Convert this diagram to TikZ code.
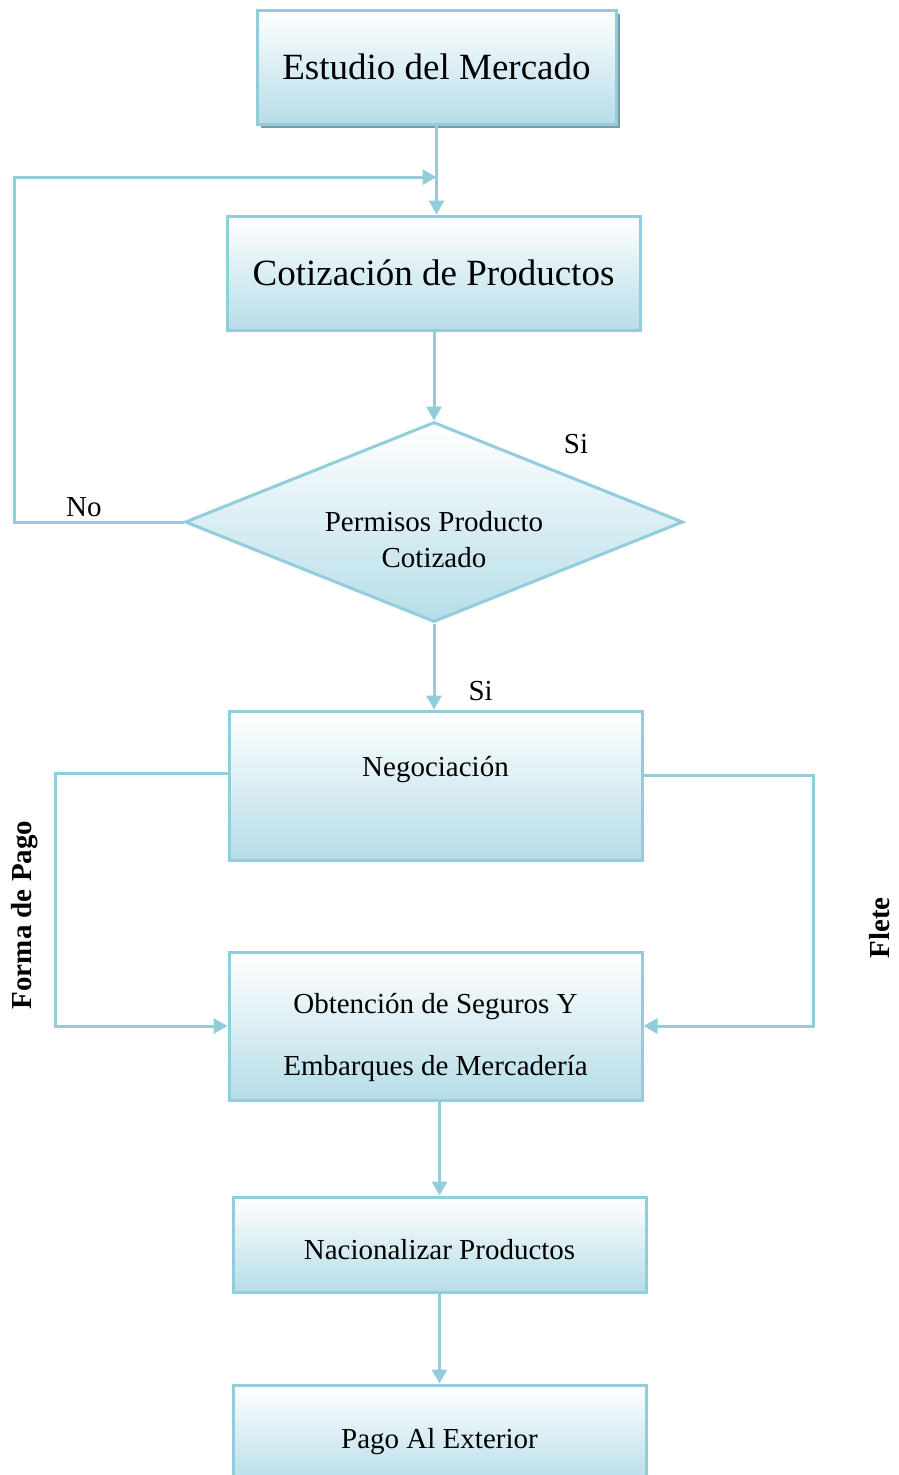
\documentclass[tikz,border=0pt]{standalone}
\usepackage{fontspec}
\setmainfont{Liberation Serif}
\usetikzlibrary{shapes.geometric,arrows.meta,positioning,calc,shadows}
\definecolor{flowline}{HTML}{92CDDC}
\definecolor{flowfill}{HTML}{B6DDE8}
\definecolor{flowshadow}{HTML}{7E98A6}
\tikzstyle{block} = [rectangle, draw=flowline, line width=3pt, top color=white,
    bottom color=flowfill, minimum width=413pt, minimum height=114pt, inner sep=0pt,
    font=\fontsize{29}{36}\selectfont]
\tikzstyle{bigblock} = [block, font=\fontsize{37}{44}\selectfont]
\tikzstyle{decision} = [diamond, draw=flowline, line width=3pt, top color=white,
    bottom color=flowfill, minimum width=498pt, minimum height=200pt, inner sep=0pt]
\tikzstyle{arrow} = [-{Triangle[length=14pt,width=15pt]}, line width=3pt, flowline]
\tikzstyle{tag} = [font=\fontsize{29}{36}\selectfont, text=black, inner sep=0pt]
\tikzstyle{sidetag} = [tag, font=\fontsize{29}{36}\selectfont\bfseries, rotate=90]

\begin{document}
\begin{tikzpicture}[x=1pt, y=-1pt]
\useasboundingbox (0,0) rectangle (898,1475);
\node[bigblock, minimum width=359pt, drop shadow={shadow xshift=4pt, shadow yshift=-4pt,
    fill=flowshadow, opacity=1}] (n1) at (436.5,67) {Estudio del Mercado};
\node[bigblock, below=89pt of n1, xshift=-3pt] (n2) {Cotización de Productos};
\node[decision, below=89pt of n2, xshift=0.5pt] (n3) {};
\node[tag, align=center] (n3t) at ([yshift=-18pt]n3.center) {Permisos Producto\\Cotizado};
\node[block, below=86pt of n3, xshift=1.5pt, minimum height=149pt,
    text height=65pt, text depth=84pt] (n4) {Negociación};
\node[block, below=89pt of n4, minimum height=148pt, align=center,
    font=\fontsize{29}{62}\selectfont] (n5)
    {\rule{0pt}{61pt}Obtención de Seguros Y\\Embarques de Mercadería\rule[-25pt]{0pt}{0pt}};
\node[block, below=94pt of n5, xshift=4pt, minimum height=95pt,
    text height=62pt, text depth=33pt] (n6) {Nacionalizar Productos};
\node[block, below=90pt of n6, minimum height=100pt,
    text height=63pt, text depth=37pt] (n7) {Pago Al Exterior};

\coordinate (m1) at ($(n1.south)!0.58!(n1.south |- n2.north)$);
\node[tag] (s1) at (576,444) {Si};
\node[sidetag] (l1) at (25,915) {Forma de Pago};
\node[sidetag] (l2) at (880,928) {Flete};

\draw[arrow] (n1.south) -- (n1.south |- n2.north);
\draw[arrow] (n3.north |- n2.south) -- (n3.north);
\draw[arrow] (n3.west) -- node[tag, pos=0.59, above=4pt]{No} ++(-169pt,0pt) |- (m1);
\draw[arrow] (n3.south) -- node[tag, pos=0.79, right=33pt]{Si} (n3.south |- n4.north);
\draw[arrow] ([yshift=12pt]n4.west) -- ++(-172pt,0pt) |- (n5.west);
\draw[arrow] ([yshift=10pt]n4.east) -- ++(170pt,0pt) |- (n5.east);
\draw[arrow] (n6.north |- n5.south) -- (n6.north);
\draw[arrow] (n6.south) -- (n7.north);
\end{tikzpicture}
\end{document}
